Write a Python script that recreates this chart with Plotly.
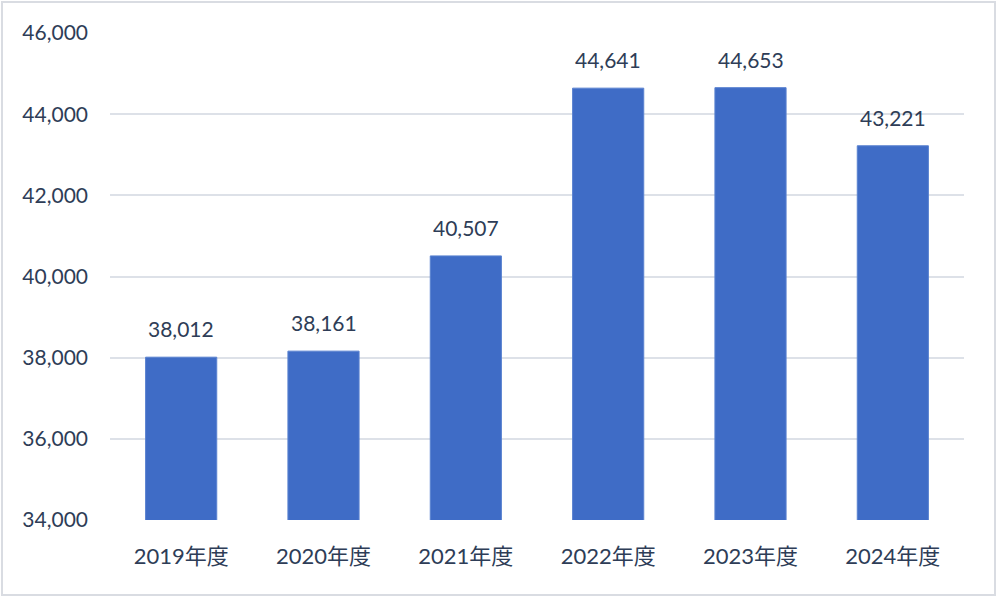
import plotly.graph_objects as go

# 年度別の値
years = ["2019年度", "2020年度", "2021年度", "2022年度", "2023年度", "2024年度"]
values = [38012, 38161, 40507, 44641, 44653, 43221]
y_ticks = [34000, 36000, 38000, 40000, 42000, 44000, 46000]

font_family = "Lato, 'Noto Sans CJK JP', sans-serif"
text_color = "#2E3D57"

# plot area in pixels: x 110..964, y 33..520
pw, ph = 854, 487

fig = go.Figure()
fig.add_trace(go.Bar(
    x=years, y=values,
    marker=dict(color="#3F6CC6", line=dict(color="#5A82D0", width=1)),
    hoverinfo="x+y"
))

# 値ラベル（棒の上に少し離して置く）
for yr, v in zip(years, values):
    fig.add_annotation(
        x=yr, y=v, text=f"{v:,}", showarrow=False,
        yanchor="bottom", yshift=14,
        font=dict(size=21, color=text_color, family=font_family)
    )

fig.update_layout(
    width=1000, height=600,
    plot_bgcolor="white", paper_bgcolor="white",
    bargap=0.5, showlegend=False,
    margin=dict(l=110, r=36, t=33, b=80),
    font=dict(family=font_family, color=text_color, size=21),
    xaxis=dict(showgrid=False, showline=False, ticklabelstandoff=21,
               tickfont=dict(size=22)),
    yaxis=dict(range=[34000, 46000], tickvals=y_ticks,
               ticktext=[f"{v:,}" for v in y_ticks],
               showgrid=True, gridcolor="#DDE1E8", gridwidth=1.5,
               zeroline=False, showline=False, ticklabelstandoff=21,
               tickfont=dict(size=21)),
    shapes=[dict(type="rect", xref="paper", yref="paper",
                 x0=(2 - 110) / pw, x1=(995 - 110) / pw,
                 y0=(520 - 595) / ph, y1=(520 - 2) / ph,
                 line=dict(color="#D9DCE2", width=2))]
)

# ページ余白を消して 1000x600 の枠にぴったり合わせる
fig.write_html("out.html", config={"displayModeBar": False},
               post_script="document.body.style.margin='0';")
